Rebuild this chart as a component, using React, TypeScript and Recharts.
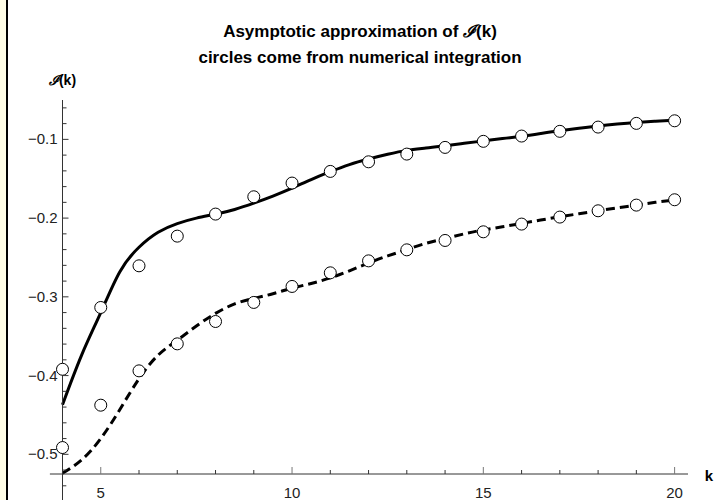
import { ComposedChart, Line, Scatter, XAxis, YAxis, ReferenceLine } from 'recharts';

// sample positions of the asymptotic curves
const curveK = [4, 4.5, 5, 5.5, 6, 6.5, 7, 7.5, 8, 8.5, 9, 9.5, 10, 10.5, 11, 11.5, 12, 12.5, 13, 13.5, 14, 14.5, 15, 15.5, 16, 16.5, 17, 17.5, 18, 18.5, 19, 19.5, 20];
const solidCurve = [-0.437, -0.374, -0.32, -0.268, -0.237, -0.218, -0.207, -0.2, -0.195, -0.189, -0.181, -0.172, -0.162, -0.151, -0.141, -0.132, -0.125, -0.119, -0.114, -0.111, -0.108, -0.105, -0.102, -0.099, -0.096, -0.0925, -0.089, -0.086, -0.083, -0.0805, -0.0785, -0.077, -0.0755];
const dashedCurve = [-0.524, -0.507, -0.48, -0.443, -0.404, -0.374, -0.355, -0.337, -0.321, -0.309, -0.302, -0.296, -0.289, -0.283, -0.276, -0.267, -0.257, -0.248, -0.24, -0.232, -0.226, -0.22, -0.215, -0.211, -0.2067, -0.2025, -0.1983, -0.1945, -0.1907, -0.187, -0.1835, -0.18, -0.1771];

// numerical integration (circles)
const pointK = [4, 5, 6, 7, 8, 9, 10, 11, 12, 13, 14, 15, 16, 17, 18, 19, 20];
const solidPoints = [-0.392, -0.3135, -0.2606, -0.2229, -0.1949, -0.1729, -0.1555, -0.1407, -0.1285, -0.1187, -0.1102, -0.1025, -0.0958, -0.0898, -0.0844, -0.0797, -0.0764];
const dashedPoints = [-0.4914, -0.4376, -0.394, -0.3597, -0.3313, -0.3071, -0.2868, -0.2695, -0.2543, -0.2403, -0.2284, -0.2174, -0.2076, -0.1987, -0.1907, -0.1835, -0.1767];

const xTicks = [5, 6, 7, 8, 9, 10, 11, 12, 13, 14, 15, 16, 17, 18, 19, 20];
const xMajor = [5, 10, 15, 20];
const yTicks = [-0.52, -0.5, -0.48, -0.46, -0.44, -0.42, -0.4, -0.38, -0.36, -0.34, -0.32, -0.3, -0.28, -0.26, -0.24, -0.22, -0.2, -0.18, -0.16, -0.14, -0.12, -0.1, -0.08, -0.06];
const yMajor = [-0.5, -0.4, -0.3, -0.2, -0.1];

const solidCurveData = curveK.map((k, i) => ({ k, v: solidCurve[i] }));
const dashedCurveData = curveK.map((k, i) => ({ k, v: dashedCurve[i] }));
const solidPointData = pointK.map((k, i) => ({ k, v: solidPoints[i] }));
const dashedPointData = pointK.map((k, i) => ({ k, v: dashedPoints[i] }));

const FONT = '"Liberation Sans", Arial, sans-serif';
const AXIS = '#333';

const isMajor = (list: number[], v: number) => list.some((m) => Math.abs(m - v) < 1e-9);

function XTick(props: any) {
  const { x, y, payload } = props;
  const major = isMajor(xMajor, payload.value);
  return (
    <g>
      <line x1={x} x2={x} y1={y} y2={y - (major ? 7 : 4)} stroke={major ? '#777' : AXIS} strokeWidth={1} />
      {major && (
        <text x={x} y={y + 24} textAnchor="middle" fontSize={15} fontFamily={FONT} fill="#222">
          {payload.value}
        </text>
      )}
    </g>
  );
}

function YTick(props: any) {
  const { x, y, payload } = props;
  const major = isMajor(yMajor, payload.value);
  return (
    <g>
      <line x1={x} x2={x + (major ? 6 : 4)} y1={y} y2={y} stroke={AXIS} strokeWidth={1} />
      {major && (
        <text x={x - 5} y={y + 5} textAnchor="end" fontSize={15} fontFamily={FONT} fill="#222">
          {'\u2212' + Math.abs(payload.value).toFixed(1)}
        </text>
      )}
    </g>
  );
}

const Dot = (props: any) => {
  const { cx, cy } = props;
  return <circle cx={cx} cy={cy} r={6} fill="#fff" stroke="#000" strokeWidth={1} />;
};

export default function App() {
  return (
    <div style={{ position: 'absolute', left: 0, top: 0, width: 716, height: 500, background: '#fff', overflow: 'hidden' }}>
      <div style={{ position: 'absolute', left: 0, top: 0, width: 6, height: 500, background: '#fffde6', borderRight: '2px solid #000' }} />
      <ComposedChart width={716} height={500} margin={{ top: 100, right: 28, bottom: 0, left: 0 }}>
        <XAxis
          dataKey="k"
          type="number"
          domain={[4, 20.35]}
          ticks={xTicks}
          interval={0}
          height={26}
          tickSize={0}
          tickMargin={0}
          tickLine={false}
          axisLine={{ stroke: AXIS, strokeWidth: 1 }}
          tick={<XTick />}
        />
        <YAxis
          type="number"
          domain={[-0.525, -0.05]}
          ticks={yTicks}
          interval={0}
          width={62.5}
          tickSize={0}
          tickMargin={0}
          tickLine={false}
          axisLine={{ stroke: AXIS, strokeWidth: 1 }}
          tick={<YTick />}
        />
        <ReferenceLine segment={[{ x: 3.67, y: -0.525 }, { x: 4, y: -0.525 }]} stroke={AXIS} ifOverflow="visible" />
        <ReferenceLine segment={[{ x: 4, y: -0.525 }, { x: 4, y: -0.56 }]} stroke={AXIS} ifOverflow="visible" />
        <ReferenceLine segment={[{ x: 4, y: -0.54 }, { x: 4.1, y: -0.54 }]} stroke={AXIS} ifOverflow="visible" />
        <Line data={solidCurveData} dataKey="v" type="natural" stroke="#000" strokeWidth={3} dot={false} isAnimationActive={false} />
        <Line data={dashedCurveData} dataKey="v" type="natural" stroke="#000" strokeWidth={3} strokeDasharray="9 5" dot={false} isAnimationActive={false} />
        <Scatter data={solidPointData} dataKey="v" shape={<Dot />} isAnimationActive={false} />
        <Scatter data={dashedPointData} dataKey="v" shape={<Dot />} isAnimationActive={false} />
      </ComposedChart>
      <svg width={716} height={500} style={{ position: 'absolute', left: 0, top: 0, pointerEvents: 'none' }}>
        <text x={360} y={37} textAnchor="middle" fontSize={17} fontWeight="bold" fontFamily={FONT} fill="#000">
          Asymptotic approximation of <tspan fontStyle="italic">{'\u2110'}</tspan>(k)
        </text>
        <text x={360} y={63} textAnchor="middle" fontSize={17} fontWeight="bold" fontFamily={FONT} fill="#000">
          circles come from numerical integration
        </text>
        <text x={62.5} y={85} textAnchor="middle" fontSize={14} fontWeight="bold" fontFamily={FONT} fill="#000">
          <tspan fontStyle="italic">{'\u2110'}</tspan>(k)
        </text>
        <text x={709} y={481} textAnchor="middle" fontSize={15} fontWeight="bold" fontFamily={FONT} fill="#000">
          k
        </text>
      </svg>
    </div>
  );
}
